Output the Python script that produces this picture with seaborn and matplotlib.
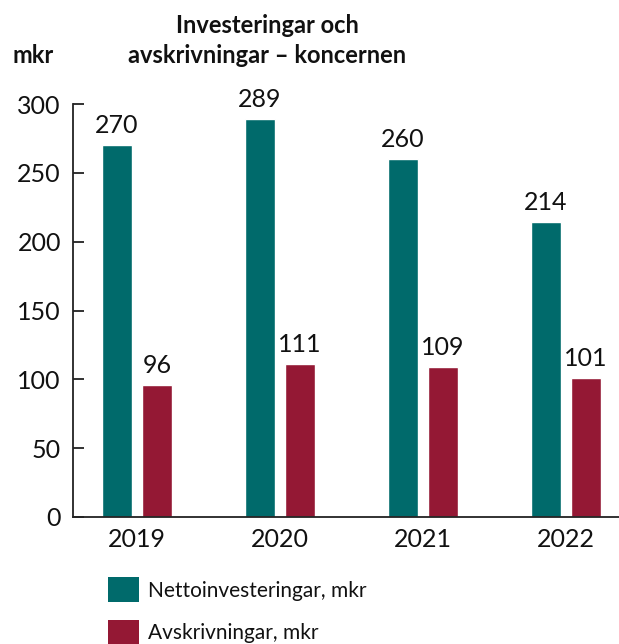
import matplotlib
matplotlib.use("Agg")
import matplotlib.pyplot as plt
from matplotlib.patches import Patch
import seaborn as sns
import pandas as pd

years = ["2019", "2020", "2021", "2022"]
netto = [270, 289, 260, 214]
avskr = [96, 111, 109, 101]
series_names = ["Nettoinvesteringar, mkr", "Avskrivningar, mkr"]
colors = ["#006A6B", "#941834"]
yticks = [0, 50, 100, 150, 200, 250, 300]

df = pd.DataFrame({
    "year": years * 2,
    "value": netto + avskr,
    "series": [series_names[0]] * len(years) + [series_names[1]] * len(years),
})

sns.set_theme(style="white")
plt.rcParams["font.family"] = ["Lato", "DejaVu Sans"]

fig = plt.figure(figsize=(6.19, 6.44), dpi=100)
ax = fig.add_axes([72.7 / 619, 1 - 517 / 644, 1 - 72.7 / 619, (517 - 104) / 644])

sns.barplot(data=df, x="year", y="value", hue="series", order=years,
            hue_order=series_names, palette=colors, width=0.56, gap=0.25,
            saturation=1, legend=False, ax=ax)

for cont in ax.containers:
    ax.bar_label(cont, fmt="%d", padding=6, fontsize=18, color="#111111")

ax.set_ylim(0, 300)
ax.set_xlim(-0.45, 3.37)
ax.set_yticks(yticks)
ax.set_xlabel("")
ax.set_ylabel("")
for s in ["top", "right"]:
    ax.spines[s].set_visible(False)
for s in ["left", "bottom"]:
    ax.spines[s].set_color("#222222")
    ax.spines[s].set_linewidth(1.3)
ax.tick_params(axis="y", direction="in", length=8, width=1.3, color="#222222",
               pad=8.5, labelsize=18, labelcolor="#111111", left=True)
ax.tick_params(axis="x", length=0, pad=8, labelsize=18, labelcolor="#111111")

fig.text(267 / 619, 1 - 33 / 644, "Investeringar och", ha="center",
         va="baseline", fontsize=17, fontweight="bold", color="#111111")
fig.text(267 / 619, 1 - 63 / 644, "avskrivningar – koncernen", ha="center",
         va="baseline", fontsize=17, fontweight="bold", color="#111111")
fig.text(13 / 619, 1 - 63 / 644, "mkr", ha="left", va="baseline",
         fontsize=17, fontweight="bold", color="#111111")

handles = [Patch(facecolor=c, edgecolor="none") for c in colors]
fig.legend(handles, series_names, loc="upper left",
           bbox_to_anchor=(100 / 619, 1 - 569 / 644), frameon=False,
           fontsize=15, handlelength=1.45, handleheight=1.45,
           handletextpad=0.45, labelspacing=0.85, borderaxespad=0,
           labelcolor="#111111")

fig.savefig("out.png", dpi=100)
